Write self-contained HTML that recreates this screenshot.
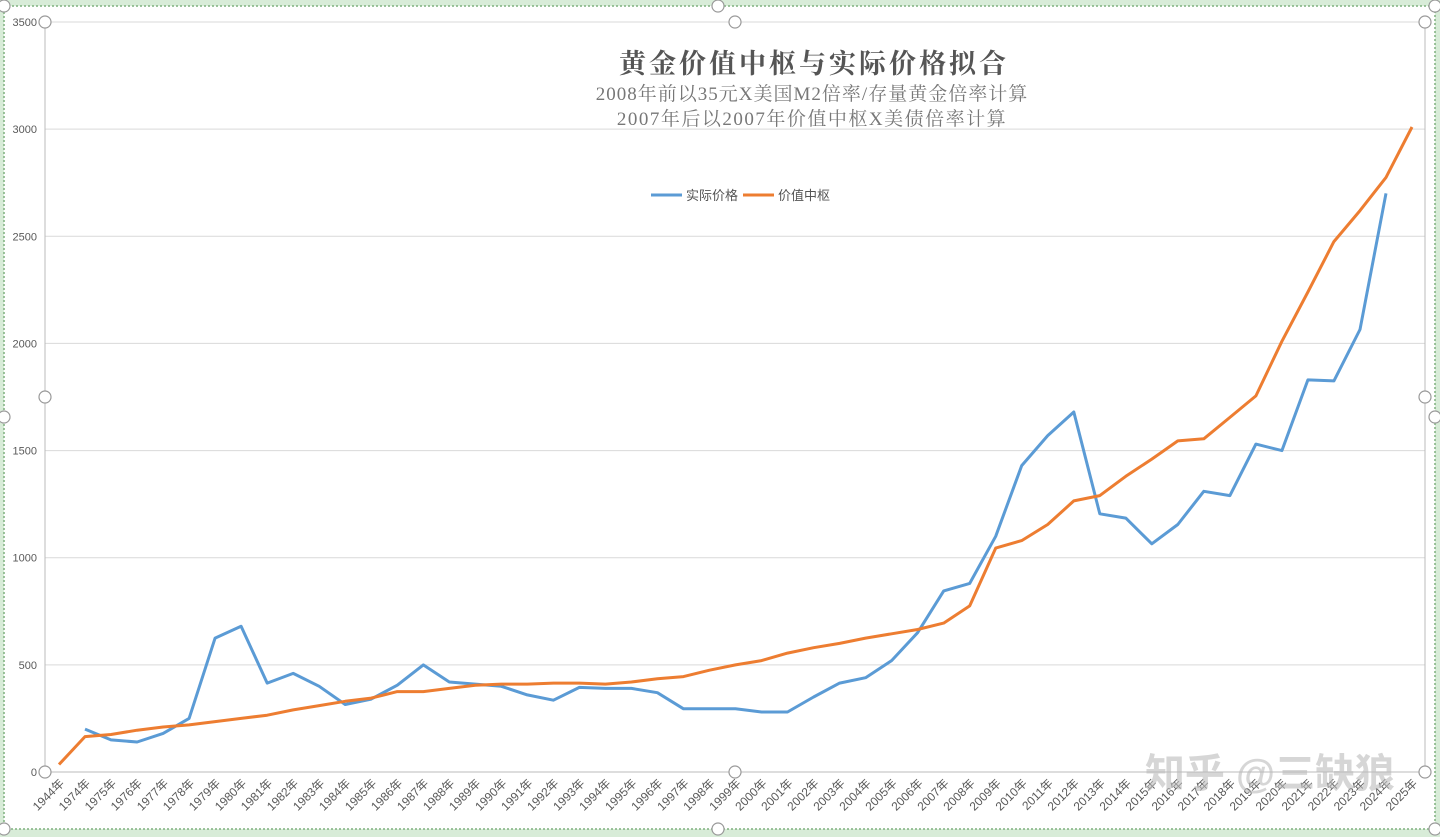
<!DOCTYPE html>
<html><head><meta charset="utf-8">
<style>
html,body{margin:0;padding:0;background:#fff;}
body{width:1440px;height:837px;overflow:hidden;position:relative;font-family:"Liberation Sans","Noto Sans CJK SC",sans-serif;}
#frame{position:absolute;left:0;top:0;width:1440px;height:837px;}
</style></head>
<body>
<svg id="frame" width="1440" height="837" xmlns="http://www.w3.org/2000/svg">
<rect x="0" y="0" width="1440" height="837" fill="#d8ecd8"/>
<rect x="4" y="6" width="1431" height="823" fill="#fff" stroke="#7fb07f" stroke-width="1.5" stroke-dasharray="2,2"/>
<g id="grid"></g>
<g id="axes"></g>
<g id="series"></g>
<text x="814" y="73" text-anchor="middle" font-family="'Liberation Serif','Noto Serif CJK SC',serif" font-size="27" font-weight="bold" letter-spacing="3" fill="#555">黄金价值中枢与实际价格拟合</text>
<text x="812" y="100" text-anchor="middle" font-family="'Liberation Serif','Noto Serif CJK SC',serif" font-size="19" letter-spacing="1" fill="#777">2008年前以35元X美国M2倍率/存量黄金倍率计算</text>
<text x="812" y="125" text-anchor="middle" font-family="'Liberation Serif','Noto Serif CJK SC',serif" font-size="19" letter-spacing="1.5" fill="#777">2007年后以2007年价值中枢X美债倍率计算</text>
<g>
<line x1="651" y1="195" x2="682" y2="195" stroke="#5b9bd5" stroke-width="3"/>
<text x="686" y="200" font-size="13" fill="#555">实际价格</text>
<line x1="743" y1="195" x2="774" y2="195" stroke="#ed7d31" stroke-width="3"/>
<text x="778" y="200" font-size="13" fill="#555">价值中枢</text>
</g>
<text x="1270" y="787" text-anchor="middle" font-size="40" font-weight="bold" fill="#bbb" fill-opacity="0.6">知乎 @三缺狼</text>
<g id="handles"></g>
</svg>
<script>
const categories=["1944年","1974年","1975年","1976年","1977年","1978年","1979年","1980年","1981年","1982年","1983年","1984年","1985年","1986年","1987年","1988年","1989年","1990年","1991年","1992年","1993年","1994年","1995年","1996年","1997年","1998年","1999年","2000年","2001年","2002年","2003年","2004年","2005年","2006年","2007年","2008年","2009年","2010年","2011年","2012年","2013年","2014年","2015年","2016年","2017年","2018年","2019年","2020年","2021年","2022年","2023年","2024年","2025年"];
const actualPrice=[null,200,150,140,180,250,625,680,415,460,400,315,340,405,500,420,410,400,360,335,395,390,390,370,295,295,295,280,280,350,415,440,520,650,845,880,1100,1430,1570,1680,1205,1185,1065,1155,1310,1290,1530,1500,1830,1825,2065,2700,null];
const valueCenter=[35,165,175,195,210,220,235,250,265,290,310,330,345,375,375,390,405,410,410,415,415,410,420,435,445,475,500,520,555,580,600,625,645,665,695,775,1045,1080,1155,1265,1290,1380,1460,1545,1555,1655,1755,2010,2240,2475,2620,2775,3010];
const yTicks=[0,500,1000,1500,2000,2500,3000,3500];

const NS="http://www.w3.org/2000/svg";
const L=45,R=1425,T=22,B=772,yMax=3500;
const x0=59,x1=1412;
function xs(i){return x0+(x1-x0)*i/(categories.length-1);}
function ys(v){return B-(B-T)*v/yMax;}
function mk(tag,attrs,parent){const e=document.createElementNS(NS,tag);for(const k in attrs)e.setAttribute(k,attrs[k]);parent.appendChild(e);return e;}
const grid=document.getElementById('grid'),axes=document.getElementById('axes'),series=document.getElementById('series'),handles=document.getElementById('handles');
yTicks.forEach(v=>{
  const ln=mk('line',{x1:L,x2:R,y1:ys(v),y2:ys(v),stroke:v===0?'#bbb':'#d9d9d9','stroke-width':1},grid);
  
  
  const t=mk('text',{x:L-8,y:ys(v)+4,'text-anchor':'end','font-size':11,fill:'#595959'},axes);
  t.textContent=v;
  
  
});
const ya=mk('line',{x1:L,x2:L,y1:T,y2:B,stroke:'#bbb','stroke-width':1},axes);


const ra=mk('line',{x1:R,x2:R,y1:T,y2:B,stroke:'#bbb','stroke-width':1},axes);


categories.forEach((c,i)=>{
  const x=xs(i),y=B+12;
  const t=mk('text',{x:x+6,y:y,'text-anchor':'end','font-size':12,fill:'#595959',transform:`rotate(-45 ${x+6} ${y})`},axes);
  t.textContent=c;
  
  
});
function path(arr){let d='',pen=false;arr.forEach((v,i)=>{if(v==null){pen=false;return;}d+=(pen?'L':'M')+xs(i).toFixed(1)+','+ys(v).toFixed(1);pen=true;});return d;}
const pa=mk('path',{d:path(actualPrice),fill:'none',stroke:'#5b9bd5','stroke-width':3,'stroke-linejoin':'round'},series);


const pv=mk('path',{d:path(valueCenter),fill:'none',stroke:'#ed7d31','stroke-width':3,'stroke-linejoin':'round'},series);


const hp=[[L,T],[735,T],[R,T],[L,397],[R,397],[L,B],[735,B],[R,B],[4,6],[718,6],[1435,6],[4,829],[718,829],[1435,829],[4,417],[1435,417]];
hp.forEach(p=>{
  const c=mk('circle',{cx:p[0],cy:p[1],r:6,fill:'#fff',stroke:'#999','stroke-width':1.2},handles);
  
  
});
</script>
</body></html>
